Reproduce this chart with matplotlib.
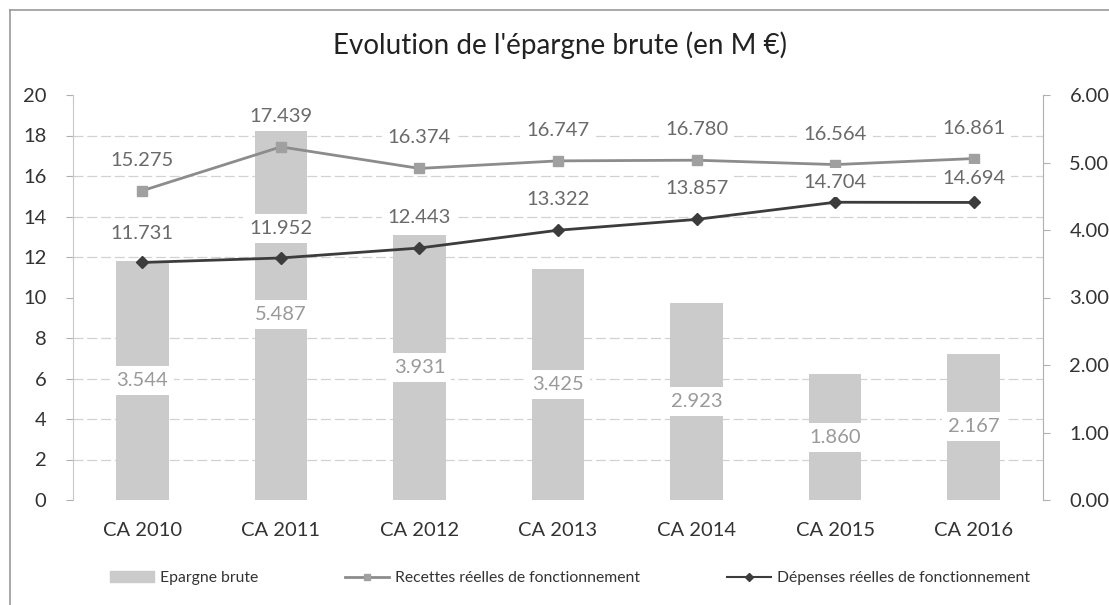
import numpy as np
import matplotlib.pyplot as plt
from matplotlib.lines import Line2D
from matplotlib.patches import Patch
from matplotlib.ticker import FormatStrFormatter

plt.rcParams['font.family'] = ['Lato', 'DejaVu Sans']

categories = ['CA 2010', 'CA 2011', 'CA 2012', 'CA 2013', 'CA 2014', 'CA 2015', 'CA 2016']
epargne = [3.544, 5.487, 3.931, 3.425, 2.923, 1.860, 2.167]
recettes = [15.275, 17.439, 16.374, 16.747, 16.780, 16.564, 16.861]
depenses = [11.731, 11.952, 12.443, 13.322, 13.857, 14.704, 14.694]

W, H = 1109, 605
fig = plt.figure(figsize=(W / 100, H / 100), dpi=100)
ax1 = fig.add_axes([73 / W, 1 - 500 / H, (1043 - 73) / W, (500 - 95) / H])
ax2 = ax1.twinx()
ax1.set_zorder(ax2.get_zorder() + 1)
ax1.patch.set_visible(False)

x = np.arange(len(categories))
bar_col = '#cbcbcb'
rec_col = '#8c8c8c'
dep_col = '#3c3c3c'
fs = 14.5
box = dict(boxstyle='square,pad=0.3', fc='white', ec='none')

# bars on secondary axis
ax2.bar(x, epargne, width=0.38, color=bar_col, zorder=2)
ax2.set_ylim(0, 6)
ax2.set_yticks(np.arange(0, 7, 1))
ax2.yaxis.set_major_formatter(FormatStrFormatter('%.2f'))
ax2.set_yticks(np.linspace(0, 6, 11), minor=True)
ax2.grid(which='minor', axis='y', color='#d2d2d2', lw=0.9, ls=(0, (8, 3)))
ax2.set_axisbelow(True)
ax2.tick_params(axis='y', which='minor', length=0)
ax2.tick_params(axis='y', which='major', length=5, color='#b0b0b0',
                labelsize=fs, pad=14, labelcolor='#333333')
for v, xi in zip(epargne, x):
    ax2.text(xi, v / 2, f'{v:.3f}', ha='center', va='center', fontsize=fs,
             color='#9a9a9a', zorder=3, bbox=box)

# lines on primary axis
ax1.plot(x, recettes, color=rec_col, lw=2, marker='s', ms=7,
         mfc='#a0a0a0', mec='#a0a0a0', zorder=4)
ax1.plot(x, depenses, color=dep_col, lw=2, marker='D', ms=6,
         mfc=dep_col, mec=dep_col, zorder=4)
for xi, v in zip(x, recettes):
    ax1.annotate(f'{v:.3f}', (xi, v), xytext=(0, 22), textcoords='offset points',
                 ha='center', va='center', fontsize=fs, color='#6a6a6a', zorder=6,
                 bbox=box)
dep_offsets = [21, 21, 22, 22, 22, 14, 17]
for xi, v, off in zip(x, depenses, dep_offsets):
    ax1.annotate(f'{v:.3f}', (xi, v), xytext=(0, off), textcoords='offset points',
                 ha='center', va='center', fontsize=fs, color='#6a6a6a', zorder=6,
                 bbox=box)

ax1.set_ylim(0, 20)
ax1.set_yticks(np.arange(0, 21, 2))
ax1.set_xlim(-0.5, len(categories) - 0.5)
ax1.set_xticks(x)
ax1.set_xticklabels(categories)
ax1.tick_params(axis='x', length=0, labelsize=fs, pad=16, labelcolor='#333333')
ax1.tick_params(axis='y', length=5, color='#b0b0b0', labelsize=fs, pad=14,
                labelcolor='#333333')

for a in (ax1, ax2):
    for s in ('top', 'bottom'):
        a.spines[s].set_visible(False)
ax1.spines['right'].set_visible(False)
ax2.spines['left'].set_visible(False)
ax1.spines['left'].set_color('#c8c8c8')
ax2.spines['right'].set_color('#b0b0b0')

fig.text(0.505, 1 - 45 / H, "Evolution de l'épargne brute (en M €)", ha='center',
         va='center', fontsize=20, color='#222222')

handles = [Patch(color=bar_col),
           Line2D([], [], color=rec_col, lw=2, marker='s', ms=5, mfc='#a0a0a0', mec='#a0a0a0'),
           Line2D([], [], color=dep_col, lw=1.5, marker='D', ms=4, mfc=dep_col, mec=dep_col)]
labels = ['Epargne brute', 'Recettes réelles de fonctionnement',
          'Dépenses réelles de fonctionnement']
fig.legend(handles, labels, loc='center', bbox_to_anchor=(570 / W, 1 - 578 / H),
           ncol=3, frameon=False, fontsize=11.3, columnspacing=5.5, handlelength=2.8,
           handletextpad=0.4, labelcolor='#333333')

# chart frame
fig.add_artist(Line2D([10 / W, 10 / W], [0, 1 - 10 / H], transform=fig.transFigure,
                      color='#9a9a9a', lw=1.2))
fig.add_artist(Line2D([10 / W, 1], [1 - 10 / H, 1 - 10 / H], transform=fig.transFigure,
                      color='#9a9a9a', lw=1.2))

fig.savefig('out.png', dpi=100)
